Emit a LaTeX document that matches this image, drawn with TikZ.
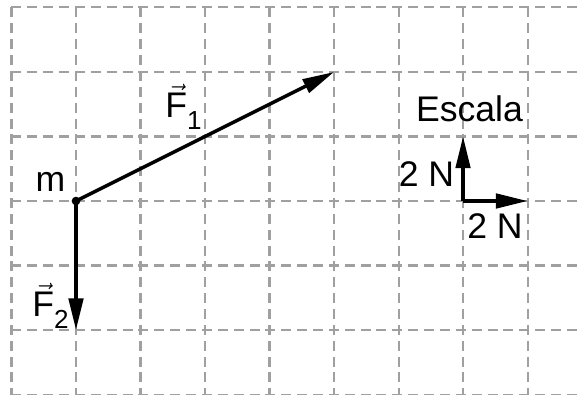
\documentclass[tikz,border=0pt]{standalone}
\usepackage{amsmath}
\usepackage{fontspec}
\setmainfont{Liberation Sans}
\usetikzlibrary{arrows.meta}
\newcommand{\vecF}[1]{$\vec{\text{F}}$\raisebox{-5pt}{\fontsize{11.5pt}{11.5pt}\selectfont #1}}
\tikzset{
  gridline/.style={draw={rgb,255:red,160;green,160;blue,160}, line width=0.9pt, dash pattern=on 4.4pt off 2.6pt},
  force/.style={line width=1.5pt, -{Triangle[length=14pt,width=6.4pt]}},
  lbl/.style={font=\fontsize{15.7pt}{15.7pt}\selectfont, inner sep=0pt},
}
\begin{document}
\begin{tikzpicture}
\useasboundingbox (-1.178,-2.992) rectangle (7.860,3.116);
\begin{scope}
\clip (-1.178,-2.992) rectangle (7.860,3.116);
\foreach \x in {-1,...,8} \draw[gridline] (\x,3) -- (\x,-3);
\foreach \y in {3,2,...,-3} \draw[gridline] (-1,\y) -- (8,\y);
\end{scope}
\coordinate (m) at (0,0);
\coordinate (f1) at (4,2);
\coordinate (f2) at (0,-2);
\coordinate (s0) at (6,0);
\coordinate (sy) at (6,1);
\coordinate (sx) at (7,0);
\draw[force] (m) -- (f1);
\draw[force] (m) -- (f2);
\fill (m) circle (1.9pt);
\draw[force] (s0) -- (sy);
\draw[force] (s0) -- (sx);
\node[lbl, anchor=base] (mlabel) at (-0.395,0.14) {m};
\node[lbl, anchor=base west] (f1label) at (1.38,1.287) {\vecF{1}};
\node[lbl, anchor=base west] (f2label) at (-0.682,-1.798) {\vecF{2}};
\node[lbl, anchor=base] (escala) at (6.10,1.225) {Escala};
\node[lbl, anchor=base] (sylabel) at (5.434,0.222) {2 N};
\node[lbl, anchor=base] (sxlabel) at (6.496,-0.589) {2 N};
\end{tikzpicture}
\end{document}
